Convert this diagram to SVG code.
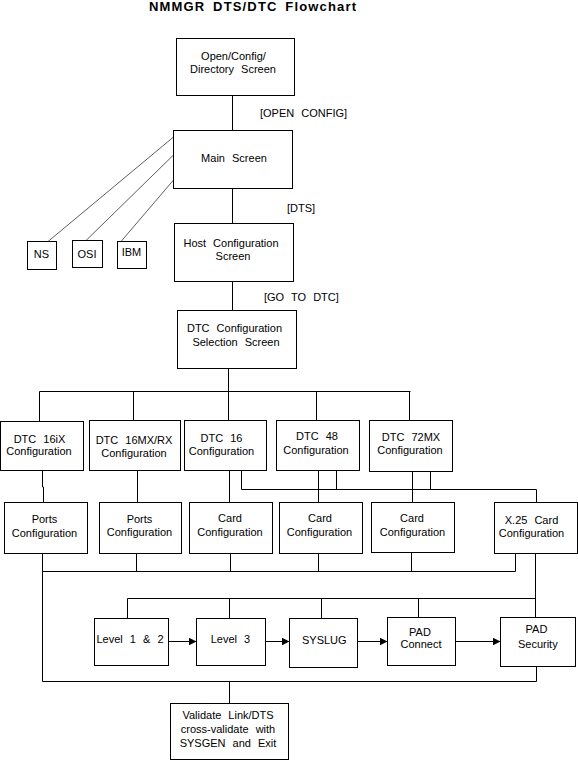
<svg xmlns="http://www.w3.org/2000/svg" width="578" height="761" viewBox="0 0 578 761">
<style>
rect{fill:#fff;stroke:#000;stroke-width:1}
.c path{fill:none;stroke:#000;stroke-width:1}
.c path.d{stroke:#333;stroke-width:0.8}
text{font-family:"Liberation Sans",Arial,sans-serif;font-size:11px;fill:#000;word-spacing:4px}
.m{text-anchor:middle}
.title{font-size:13px;font-weight:bold;word-spacing:3px}
</style>
<defs>
<marker id="ah" viewBox="0 0 8 8" refX="8" refY="4" markerWidth="8" markerHeight="8" markerUnits="userSpaceOnUse" orient="auto"><path d="M0,0 L8,4 L0,8 z" fill="#000"/></marker>
</defs>
<rect x="0" y="0" width="578" height="761" style="stroke:none"/>
<text class="title m" x="252.5" y="11" textLength="207" lengthAdjust="spacing">NMMGR DTS/DTC Flowchart</text>

<g class="c" id="connectors">
<path d="M232.5,95.5 V130.5"/>
<path d="M232.5,188.5 V223.5"/>
<path d="M232.5,281.5 V310.5"/>
<path d="M228.5,368.5 V391.5"/>
<path d="M39.5,391.5 H410.5"/>
<path d="M39.5,391.5 V421.5 M133.5,391.5 V420.5 M228.5,391.5 V420.5 M316.5,391.5 V420.5 M409.5,391.5 V420.5"/>
<path class="d" d="M173.5,137 L48,241.5"/>
<path class="d" d="M173.5,155 L86,240.5"/>
<path class="d" d="M173.5,180 L121,241.5"/>
<path d="M42.5,470.5 V487 H43.5 V502.5"/>
<path d="M137.5,470.5 V502.5"/>
<path d="M229.5,470.5 V502.5"/>
<path d="M241.5,470.5 V489.5 H536.5 V502.5"/>
<path d="M318.5,470.5 V502.5"/>
<path d="M336.5,470.5 V489.5"/>
<path d="M412.5,471.5 V502.5"/>
<path d="M430.5,471.5 V489.5"/>
<path d="M42.5,553.5 V681.5 H536.5 V666.5"/>
<path d="M42.5,571.5 H515.5 V553.5"/>
<path d="M136.5,553.5 V571.5 M230.5,553.5 V571.5 M318.5,553.5 V571.5 M411.5,552.5 V571.5"/>
<path d="M535.5,553.5 V617.5"/>
<path d="M127.5,598.5 H535.5"/>
<path d="M127.5,598.5 V618.5 M229.5,598.5 V618.5 M321.5,598.5 V618.5 M418.5,598.5 V617.5"/>
<path d="M229.5,681.5 V703.5"/>
<path d="M168.5,641.5 H196.5" marker-end="url(#ah)"/>
<path d="M265.5,641.5 H289.5" marker-end="url(#ah)"/>
<path d="M357.5,641.5 H387.5" marker-end="url(#ah)"/>
<path d="M455.5,641.5 H500.5" marker-end="url(#ah)"/>
</g>

<g id="lbl-open"><text x="260" y="117">[OPEN CONFIG]</text></g>
<g id="lbl-dts"><text x="287" y="211.5">[DTS]</text></g>
<g id="lbl-goto"><text x="264" y="300.5">[GO TO DTC]</text></g>

<g id="open-config"><rect x="176.5" y="38.5" width="118" height="57"/><text class="m" x="233.5" y="60">Open/Config/</text><text class="m" x="233" y="73">Directory Screen</text></g>
<g id="main-screen"><rect x="173.5" y="130.5" width="119" height="58"/><text class="m" x="234" y="162">Main Screen</text></g>
<g id="ns"><rect x="27.5" y="241.5" width="29" height="28"/><text class="m" x="41.5" y="258">NS</text></g>
<g id="osi"><rect x="72.5" y="240.5" width="30" height="27"/><text class="m" x="87" y="258">OSI</text></g>
<g id="ibm"><rect x="117.5" y="241.5" width="29" height="27"/><text class="m" x="131.5" y="256">IBM</text></g>
<g id="host-config"><rect x="174.5" y="223.5" width="119" height="58"/><text class="m" x="231" y="246.5">Host Configuration</text><text class="m" x="233" y="260">Screen</text></g>
<g id="dtc-selection"><rect x="177.5" y="310.5" width="119" height="58"/><text class="m" x="234.5" y="331.5">DTC Configuration</text><text class="m" x="236" y="345.5">Selection Screen</text></g>

<g id="dtc16ix"><rect x="0.5" y="421.5" width="83" height="49"/><text class="m" x="39.5" y="442.5">DTC 16iX</text><text class="m" x="39" y="455">Configuration</text></g>
<g id="dtc16mx"><rect x="89.5" y="420.5" width="91" height="50"/><text class="m" x="134" y="443.5">DTC 16MX/RX</text><text class="m" x="134" y="456.5">Configuration</text></g>
<g id="dtc16"><rect x="184.5" y="420.5" width="82" height="50"/><text class="m" x="221.5" y="441.5">DTC 16</text><text class="m" x="221.5" y="455">Configuration</text></g>
<g id="dtc48"><rect x="276.5" y="420.5" width="83" height="50"/><text class="m" x="317" y="440">DTC 48</text><text class="m" x="316" y="454">Configuration</text></g>
<g id="dtc72mx"><rect x="369.5" y="420.5" width="83" height="51"/><text class="m" x="411" y="441">DTC 72MX</text><text class="m" x="410" y="454">Configuration</text></g>

<g id="ports1"><rect x="4.5" y="502.5" width="83" height="51"/><text class="m" x="44.5" y="522.5">Ports</text><text class="m" x="44.5" y="536.5">Configuration</text></g>
<g id="ports2"><rect x="99.5" y="502.5" width="82" height="51"/><text class="m" x="139.5" y="522.5">Ports</text><text class="m" x="139.5" y="536">Configuration</text></g>
<g id="card16"><rect x="189.5" y="502.5" width="83" height="51"/><text class="m" x="230" y="521.5">Card</text><text class="m" x="230" y="536">Configuration</text></g>
<g id="card48"><rect x="279.5" y="502.5" width="83" height="51"/><text class="m" x="320" y="521.5">Card</text><text class="m" x="319.5" y="536">Configuration</text></g>
<g id="card72"><rect x="371.5" y="502.5" width="83" height="50"/><text class="m" x="412" y="521.5">Card</text><text class="m" x="412.5" y="536">Configuration</text></g>
<g id="x25card"><rect x="494.5" y="502.5" width="83" height="51"/><text class="m" x="531.5" y="524">X.25 Card</text><text class="m" x="531.5" y="536.7">Configuration</text></g>

<g id="level12"><rect x="94.5" y="618.5" width="74" height="47"/><text class="m" x="130" y="643.3">Level 1 &amp; 2</text></g>
<g id="level3"><rect x="196.5" y="618.5" width="69" height="47"/><text class="m" x="230.5" y="643.3">Level 3</text></g>
<g id="syslug"><rect x="289.5" y="618.5" width="68" height="49"/><text class="m" x="324.3" y="644">SYSLUG</text></g>
<g id="pad-connect"><rect x="387.5" y="617.5" width="68" height="48"/><text class="m" x="420" y="635.7">PAD</text><text class="m" x="421" y="648.3">Connect</text></g>
<g id="pad-security"><rect x="500.5" y="617.5" width="75" height="49"/><text class="m" x="536.5" y="633.3">PAD</text><text class="m" x="537.8" y="647.7">Security</text></g>
<g id="validate"><rect x="170.5" y="703.5" width="118" height="56"/><text class="m" x="228" y="719.3">Validate Link/DTS</text><text class="m" x="228" y="733.3">cross-validate with</text><text class="m" x="228" y="747.3">SYSGEN and Exit</text></g>
</svg>
